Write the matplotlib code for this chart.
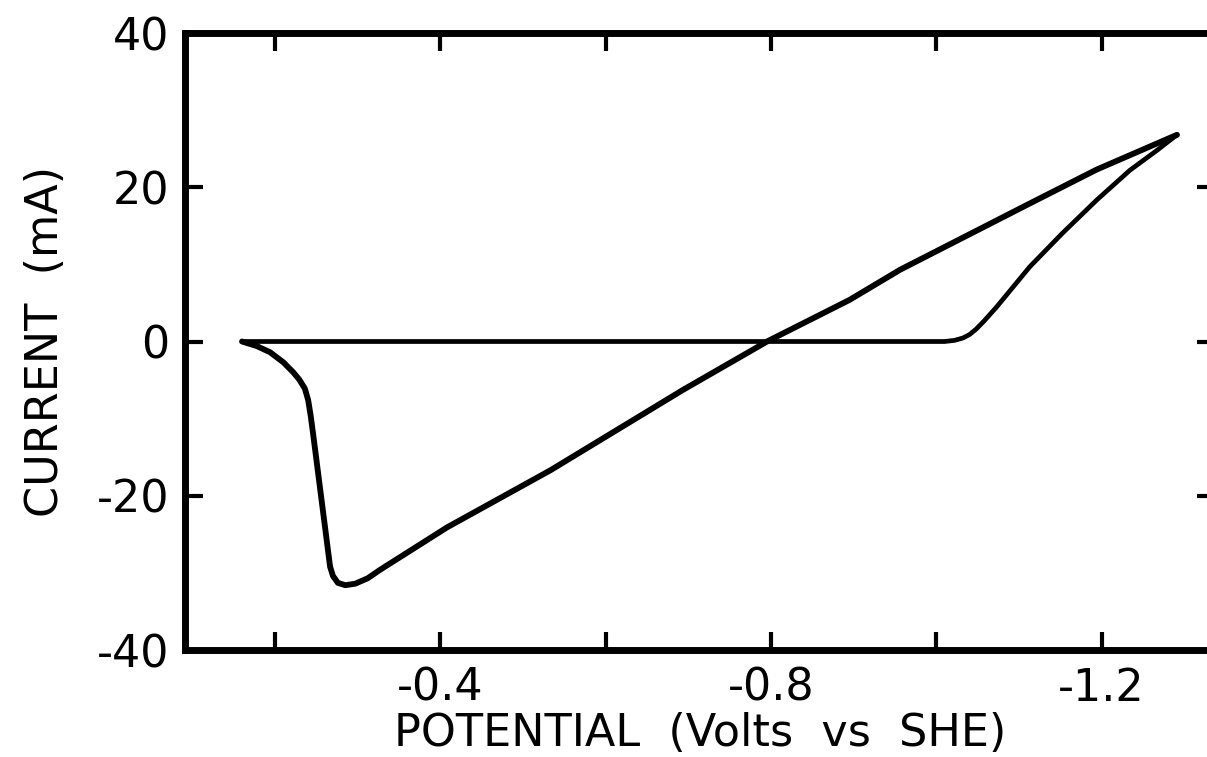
import matplotlib
matplotlib.use("Agg")
import matplotlib.pyplot as plt

# cyclic voltammogram (V vs SHE, mA)
# forward (cathodic) scan
fwd_potential = [-0.160, -0.500, -0.800, -1.000, -1.010, -1.022, -1.032, -1.040,
                 -1.048, -1.058, -1.073, -1.113, -1.153, -1.194, -1.234, -1.267,
                 -1.291]
fwd_current = [0.0, 0.0, 0.0, 0.0, 0.0, 0.15, 0.45, 0.9,
               1.6, 2.7, 4.5, 9.7, 14.1, 18.35, 22.2, 24.8,
               26.8]
# reverse scan back to the start
rev_potential = [-1.291, -1.194, -1.113, -0.956, -0.895, -0.796, -0.693, -0.533,
                 -0.408, -0.327, -0.312, -0.297, -0.285, -0.276, -0.270, -0.2665,
                 -0.246, -0.243, -0.240, -0.236, -0.229, -0.222, -0.210, -0.194,
                 -0.178, -0.160]
rev_current = [26.8, 22.3, 17.9, 9.3, 5.4, 0.05, -6.3, -16.7,
               -24.1, -29.6, -30.7, -31.4, -31.6, -31.3, -30.4, -29.2,
               -12.0, -9.6, -7.6, -6.1, -4.9, -4.0, -2.7, -1.4,
               -0.6, 0.0]

x_ticks = [-0.2, -0.4, -0.6, -0.8, -1.0, -1.2]
x_ticklabels = ["", "-0.4", "", "-0.8", "", "-1.2"]
y_ticks = [-40, -20, 0, 20, 40]
y_ticklabels = ["-40", "-20", "0", "20", "40"]

fig = plt.figure(figsize=(12.07, 7.57), dpi=100)
ax = fig.add_axes([185 / 1207, 107 / 757, 1030 / 1207, 617 / 757])

ax.plot(fwd_potential, fwd_current, color="black", lw=3.4,
        solid_joinstyle="round", solid_capstyle="round")
ax.plot(rev_potential, rev_current, color="black", lw=4.2,
        solid_joinstyle="round", solid_capstyle="round")

ax.set_xlim(-0.091, -1.337)
ax.set_ylim(-40, 40)

ax.set_xticks(x_ticks)
ax.set_xticklabels(x_ticklabels)
ax.set_yticks(y_ticks)
ax.set_yticklabels(y_ticklabels)

for s in ax.spines.values():
    s.set_linewidth(5)
ax.tick_params(direction="in", length=13, width=3, top=True, right=True,
               labelsize=32)
ax.tick_params(axis="x", pad=12)
ax.tick_params(axis="y", pad=11)

ax.set_xlabel("POTENTIAL  (Volts  vs  SHE)", fontsize=32, labelpad=2)
ax.set_ylabel("CURRENT  (mA)", fontsize=32, labelpad=22)

fig.savefig("out.png", dpi=100)
